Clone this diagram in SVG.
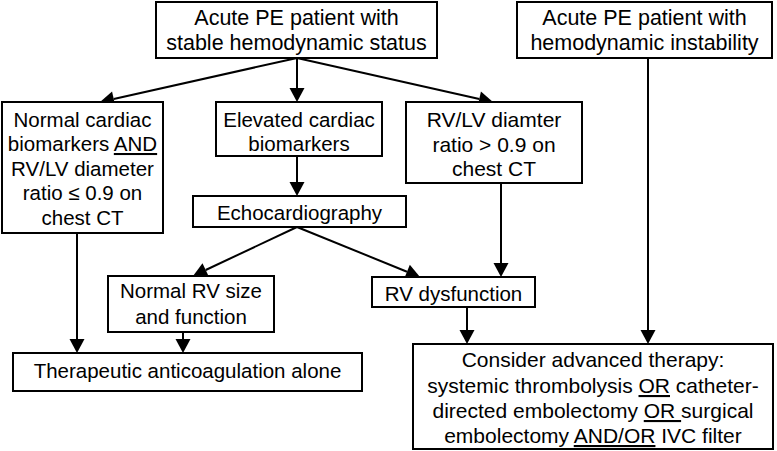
<svg xmlns="http://www.w3.org/2000/svg" width="777" height="451" viewBox="0 0 777 451">
<style>
.box{fill:#fff;stroke:#000;stroke-width:2}
.t{font-family:"Liberation Sans",Arial,sans-serif;font-size:20.5px;fill:#000;text-anchor:middle}
.big{font-size:21.5px}
.mid{font-size:21px}
.u{text-decoration:underline}
.c{fill:none;stroke:#000;stroke-width:2;marker-end:url(#ah)}
</style>
<defs>
<marker id="ah" markerUnits="userSpaceOnUse" markerWidth="14" markerHeight="15" refX="0" refY="7.5" orient="auto" overflow="visible">
<path d="M0,0 L14,7.5 L0,15 z" fill="#000"/>
</marker>
</defs>
<rect width="777" height="451" fill="#fff"/>
<g id="connectors">
<path class="c" d="M297,58 L113.7,98.9"/>
<path class="c" d="M297,58 L297,88"/>
<path class="c" d="M297,58 L479.3,98.9"/>
<path class="c" d="M648,58 L648,330"/>
<path class="c" d="M501,183 L501,263"/>
<path class="c" d="M297,156 L297,182"/>
<path class="c" d="M297,227 L205.7,270"/>
<path class="c" d="M297,227 L407,271.7"/>
<path class="c" d="M77,233 L77,339"/>
<path class="c" d="M183,332 L183,339"/>
<path class="c" d="M467,307 L467,330"/>
</g>
<g id="stable">
<rect class="box" x="156" y="2" width="281" height="56"/>
<text class="t big" x="296.5" y="25">Acute PE patient with</text>
<text class="t big" x="296.5" y="50">stable hemodynamic status</text>
</g>
<g id="instability">
<rect class="box" x="517" y="2" width="255" height="56"/>
<text class="t big" x="644.5" y="25">Acute PE patient with</text>
<text class="t big" x="644.5" y="50">hemodynamic instability</text>
</g>
<g id="normal-biomarkers">
<rect class="box" x="2" y="102" width="161" height="131"/>
<text class="t" x="82.5" y="126.5">Normal cardiac</text>
<text class="t" x="82.5" y="151">biomarkers <tspan class="u">AND</tspan></text>
<text class="t" x="82.5" y="175.5">RV/LV diameter</text>
<text class="t" x="82.5" y="200">ratio ≤ 0.9 on</text>
<text class="t" x="82.5" y="224.5">chest CT</text>
</g>
<g id="elevated">
<rect class="box" x="216" y="102" width="166" height="54"/>
<text class="t" x="299" y="127">Elevated cardiac</text>
<text class="t" x="299" y="151">biomarkers</text>
</g>
<g id="rvlv">
<rect class="box" x="406" y="102" width="176" height="81"/>
<text class="t mid" x="494" y="127">RV/LV diamter</text>
<text class="t mid" x="494" y="152">ratio &gt; 0.9 on</text>
<text class="t mid" x="494" y="176">chest CT</text>
</g>
<g id="echo">
<rect class="box" x="193" y="196" width="213" height="31"/>
<text class="t" x="299.5" y="219.5">Echocardiography</text>
</g>
<g id="normal-rv">
<rect class="box" x="108" y="276" width="166" height="56"/>
<text class="t" x="191" y="298">Normal RV size</text>
<text class="t" x="191" y="323.5">and function</text>
</g>
<g id="rv-dysfunction">
<rect class="box" x="372" y="277" width="163" height="30"/>
<text class="t" x="453.5" y="300.5">RV dysfunction</text>
</g>
<g id="anticoagulation">
<rect class="box" x="13" y="353" width="349" height="38"/>
<text class="t" x="187.5" y="377.5">Therapeutic anticoagulation alone</text>
</g>
<g id="advanced">
<rect class="box" x="413" y="344" width="360" height="105"/>
<text class="t mid" x="593" y="367">Consider advanced therapy:</text>
<text class="t mid" x="593" y="393">systemic thrombolysis <tspan class="u">OR</tspan> catheter-</text>
<text class="t mid" x="593" y="418">directed embolectomy <tspan class="u">OR </tspan>surgical</text>
<text class="t mid" x="593" y="443">embolectomy <tspan class="u">AND/OR</tspan> IVC filter</text>
</g>
</svg>
